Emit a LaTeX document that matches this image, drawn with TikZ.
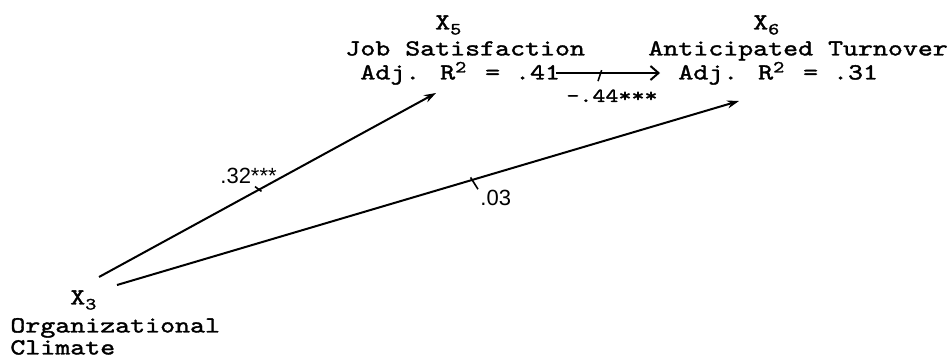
\documentclass[tikz,border=0pt]{standalone}
\usepackage{fontspec}
\setsansfont{Liberation Sans}
\newfontfamily\typer[FakeStretch=1.24, FakeBold=1.5]{lmmono10-regular.otf}
\usetikzlibrary{arrows.meta, calc}

\newcommand{\subsc}[1]{\raisebox{-2.5pt}{\fontsize{8.5}{8}\selectfont #1}}
\newcommand{\supsc}[1]{\makebox[0pt][l]{\raisebox{3.5pt}{\fontsize{8.5}{8}\selectfont #1}}\phantom{0}}

\begin{document}
\lineskiplimit=-100pt
\begin{tikzpicture}[
    x=0.5pt, y=-0.5pt,
    >={Stealth[length=6pt, width=4pt]},
    var/.style={
        anchor=north west,
        align=left,
        inner sep=0pt,
        font=\typer\fontsize{11.5}{12}\selectfont
    },
    coef/.style={
        anchor=base west,
        inner sep=0pt,
        font=\sffamily\fontsize{11}{11}\selectfont
    },
    arrow/.style={
        ->,
        line width=1pt
    },
    tick/.style={
        line width=0.8pt,
        shorten >=-1.5pt
    }
]

\useasboundingbox (0,0) rectangle (952,358);

% Variables
\node[var] (X5) at (345,15) {~~~~~~X\subsc{5}\\[1pt]Job Satisfaction\\~Adj. R\supsc{2} = .41};
\node[var] (X6) at (648,15) {~~~~~~~X\subsc{6}\\[1pt]Anticipated Turnover\\~~Adj. R\supsc{2} = .31};
\node[var, font=\typer\fontsize{11.5}{11}\selectfont] (X3) at (10,290) {~~~~X\subsc{3}\\[3pt]Organizational\\Climate};

% Paths
\draw[arrow] ($(X3.north west)+(89,-13)$) -- ($(X5.north west)+(91,78)$) coordinate[pos=0.475] (t32);
\draw[arrow] ($(X3.north west)+(107,-5)$) -- ($(X6.north west)+(91,86)$) coordinate[pos=0.571] (t03);
\draw[line width=1pt, -{Straight Barb[length=4pt, width=7pt]}] ($(X5.north west)+(211,58)$) -- ($(X6.north west)+(12,58)$) coordinate[pos=0.43] (t44);

% Coefficients
\node[coef] (l32) at (220,183) {.32***};
\node[coef, font=\typer\fontsize{10}{10}\selectfont] (l44) at (566,102) {-.44***};
\node[coef] (l03) at (480,205) {.03};

\draw[tick] ($(l32.south west)+(35,3)$) -- (t32);
\draw[tick] ($(l44.north west)+(32,-8)$) -- (t44);
\draw[tick] ($(l03.north west)+(-2,0)$) -- (t03);

\end{tikzpicture}
\end{document}
